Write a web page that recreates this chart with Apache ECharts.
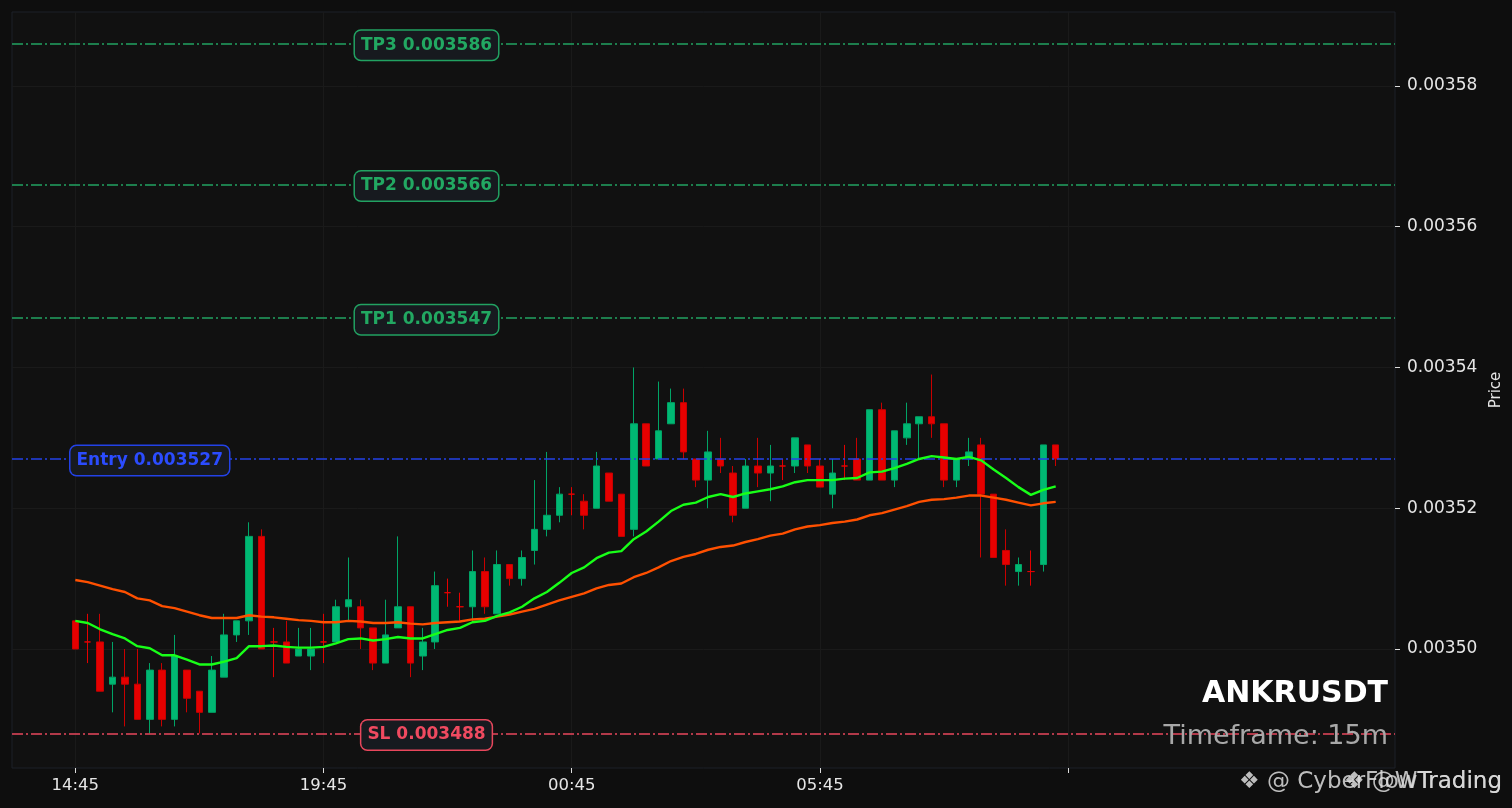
<!DOCTYPE html>
<html>
<head>
<meta charset="utf-8">
<script src="https://cdn.jsdelivr.net/npm/echarts@6/dist/echarts.min.js"></script>
<style>
html,body{margin:0;padding:0;background:#0e0e0e;}
#c{width:1512px;height:808px;}
</style>
</head>
<body>
<div id="c"></div>
<script>
// ---- data (15m candles, index 0 = 14:45) ----
const open = [0.003504,0.003501,0.003501,0.003495,0.003496,0.003495,0.003490,0.003497,0.003490,0.003497,
0.003494,0.003491,0.003496,0.003502,0.003504,0.003516,0.003501,0.003501,0.003499,0.003499,
0.003501,0.003501,0.003506,0.003506,0.003503,0.003498,0.003503,0.003506,0.003499,0.003501,
0.003508,0.003506,0.003506,0.003511,0.003505,0.003512,0.003510,0.003514,0.003517,0.003519,
0.003522,0.003521,0.003520,0.003525,0.003522,0.003517,0.003532,0.003527,0.003532,0.003535,
0.003527,0.003524,0.003527,0.003525,0.003520,0.003526,0.003525,0.003526,0.003526,0.003529,
0.003526,0.003522,0.003526,0.003527,0.003524,0.003534,0.003524,0.003530,0.003532,0.003533,
0.003532,0.003524,0.003527,0.003529,0.003522,0.003514,0.003511,0.003511,0.003512,0.003529];
const close = [0.003500,0.003501,0.003494,0.003496,0.003495,0.003490,0.003497,0.003490,0.003499,0.003493,
0.003491,0.003497,0.003502,0.003504,0.003516,0.003500,0.003501,0.003498,0.003500,0.003500,
0.003501,0.003506,0.003507,0.003503,0.003498,0.003502,0.003506,0.003498,0.003501,0.003509,
0.003508,0.003506,0.003511,0.003506,0.003512,0.003510,0.003513,0.003517,0.003519,0.003522,
0.003522,0.003519,0.003526,0.003521,0.003516,0.003532,0.003526,0.003531,0.003535,0.003528,
0.003524,0.003528,0.003526,0.003519,0.003526,0.003525,0.003526,0.003526,0.003530,0.003526,
0.003523,0.003525,0.003526,0.003524,0.003534,0.003524,0.003531,0.003532,0.003533,0.003532,
0.003524,0.003527,0.003528,0.003522,0.003513,0.003512,0.003512,0.003511,0.003529,0.003527];
const high = [0.003504,0.003505,0.003505,0.003501,0.003500,0.003500,0.003498,0.003498,0.003502,0.003497,
0.003494,0.003499,0.003505,0.003504,0.003518,0.003517,0.003503,0.003504,0.003503,0.003503,
0.003505,0.003507,0.003513,0.003507,0.003503,0.003507,0.003516,0.003506,0.003503,0.003511,
0.003510,0.003508,0.003514,0.003513,0.003514,0.003512,0.003514,0.003524,0.003528,0.003523,
0.003523,0.003522,0.003528,0.003525,0.003522,0.003540,0.003532,0.003538,0.003537,0.003537,
0.003527,0.003531,0.003530,0.003526,0.003527,0.003530,0.003529,0.003527,0.003530,0.003529,
0.003527,0.003527,0.003529,0.003530,0.003534,0.003535,0.003531,0.003535,0.003533,0.003539,
0.003532,0.003527,0.003530,0.003530,0.003522,0.003517,0.003513,0.003514,0.003529,0.003529];
const low = [0.003500,0.003498,0.003494,0.003491,0.003489,0.003490,0.003488,0.003489,0.003489,0.003491,
0.003488,0.003491,0.003496,0.003501,0.003502,0.003500,0.003496,0.003498,0.003499,0.003497,
0.003498,0.003501,0.003504,0.003500,0.003497,0.003498,0.003503,0.003496,0.003497,0.003500,
0.003506,0.003504,0.003504,0.003505,0.003505,0.003509,0.003509,0.003512,0.003516,0.003518,
0.003519,0.003517,0.003520,0.003521,0.003516,0.003516,0.003526,0.003527,0.003532,0.003527,
0.003523,0.003520,0.003525,0.003518,0.003520,0.003523,0.003521,0.003524,0.003525,0.003525,
0.003523,0.003520,0.003524,0.003524,0.003524,0.003524,0.003523,0.003529,0.003527,0.003530,
0.003523,0.003523,0.003526,0.003513,0.003513,0.003509,0.003509,0.003509,0.003511,0.003526];
const fastMA = [0.0035040,0.0035037,0.0035028,0.0035021,0.0035015,0.0035004,0.0035001,0.0034991,0.0034991,0.0034985,
0.0034978,0.0034978,0.0034982,0.0034987,0.0035004,0.0035004,0.0035005,0.0035003,0.0035002,0.0035002,
0.0035003,0.0035008,0.0035014,0.0035015,0.0035012,0.0035014,0.0035017,0.0035015,0.0035015,0.0035021,
0.0035027,0.0035030,0.0035038,0.0035040,0.0035047,0.0035052,0.0035060,0.0035072,0.0035081,0.0035094,
0.0035108,0.0035116,0.0035129,0.0035137,0.0035139,0.0035156,0.0035167,0.0035181,0.0035196,0.0035205,
0.0035208,0.0035216,0.0035220,0.0035216,0.0035221,0.0035224,0.0035227,0.0035231,0.0035237,0.0035240,
0.0035240,0.0035240,0.0035242,0.0035243,0.0035251,0.0035252,0.0035257,0.0035263,0.0035270,0.0035274,
0.0035272,0.0035270,0.0035273,0.0035268,0.0035255,0.0035243,0.0035230,0.0035219,0.0035226,0.0035231];
const slowMA = [0.0035098,0.0035095,0.0035090,0.0035085,0.0035081,0.0035072,0.0035069,0.0035061,0.0035058,0.0035053,
0.0035048,0.0035044,0.0035044,0.0035044,0.0035048,0.0035046,0.0035045,0.0035043,0.0035041,0.0035040,
0.0035038,0.0035038,0.0035040,0.0035039,0.0035037,0.0035037,0.0035038,0.0035036,0.0035035,0.0035037,
0.0035038,0.0035039,0.0035042,0.0035043,0.0035046,0.0035049,0.0035053,0.0035057,0.0035063,0.0035069,
0.0035074,0.0035079,0.0035086,0.0035091,0.0035093,0.0035102,0.0035108,0.0035116,0.0035125,0.0035131,
0.0035135,0.0035141,0.0035145,0.0035147,0.0035152,0.0035156,0.0035161,0.0035164,0.0035170,0.0035174,
0.0035176,0.0035179,0.0035181,0.0035184,0.0035190,0.0035193,0.0035198,0.0035203,0.0035209,0.0035212,
0.0035213,0.0035215,0.0035218,0.0035218,0.0035215,0.0035212,0.0035208,0.0035204,0.0035207,0.0035209];

const levelNames  = ['TP3', 'TP2', 'TP1', 'Entry', 'SL'];
const levelValues = [0.003586, 0.003566, 0.003547, 0.003527, 0.003488];
const xTickIndex  = [0, 20, 40, 60, 80];
const xTickLabels = ['14:45', '19:45', '00:45', '05:45', ''];
const yTickValues = [0.00350, 0.00352, 0.00354, 0.00356, 0.00358];
const symbolName = 'ANKRUSDT';
const timeframeText = 'Timeframe: 15m';
const watermarks = ['\u2756 @ CyberFlowTrading', '\u2756 @WTrading'];

// ---- styling ----
const FONT = 'DejaVu Sans';
const GREEN = '#00b873', GREEN_EDGE = '#00a466';
const RED = '#e60000', RED_EDGE = '#c80000';
const LEVEL_COLORS = {TP3:'#22a262', TP2:'#22a262', TP1:'#22a262', Entry:'#2342e8', SL:'#e8475c'};
const LEVEL_TEXT = {TP3:'#22a862', TP2:'#22a862', TP1:'#22a862', Entry:'#2b4cff', SL:'#f04a60'};
const LEVEL_LABEL_X = {TP3:28.3, TP2:28.3, TP1:28.3, Entry:6.0, SL:28.3};

const candleData = open.map((o, i) => {
  const c = close[i];
  const item = {value: [i, o, c, low[i], high[i]]};
  if (c === o) item.itemStyle = {color: RED, color0: RED, borderColor: RED, borderColor0: RED};
  return item;
});

const chart = echarts.init(document.getElementById('c'), null, {renderer: 'canvas'});
const option = {
  backgroundColor: '#0e0e0e',
  animation: false,
  textStyle: {fontFamily: FONT},
  grid: {left: 12, right: 117, top: 12, bottom: 40, show: true, backgroundColor: '#111111',
         borderColor: '#1d2129', borderWidth: 1, containLabel: false, outerBoundsMode: 'none'},
  xAxis: {
    type: 'value', min: -5.1, max: 106.34,
    axisLine: {show: false, onZero: false},
    axisTick: {show: true, customValues: xTickIndex, length: 5, lineStyle: {color: '#dddddd', width: 1}},
    axisLabel: {show: true, customValues: xTickIndex, color: '#e6e6e6', fontSize: 16.5, margin: 9, fontFamily: FONT,
                formatter: v => xTickLabels[xTickIndex.indexOf(v)] || ''},
    splitLine: {show: true, lineStyle: {color: '#1a1a1a', width: 1}}
  },
  yAxis: {
    type: 'value', position: 'right', min: 0.00348309, max: 0.00359051, scale: true,
    axisLine: {show: false, onZero: false},
    axisTick: {show: true, customValues: yTickValues, length: 5, lineStyle: {color: '#dddddd', width: 1}},
    axisLabel: {show: true, customValues: yTickValues, color: '#e6e6e6', fontSize: 17, margin: 12, fontFamily: FONT,
                formatter: v => v.toFixed(5)},
    splitLine: {show: true, lineStyle: {color: '#1a1a1a', width: 1}},
    name: 'Price', nameLocation: 'middle', nameGap: 90, nameRotate: 90,
    nameTextStyle: {color: '#e6e6e6', fontSize: 15, fontFamily: FONT}
  },
  series: [
    {
      type: 'candlestick', name: 'price', data: candleData, encode: {x: 0, y: [1, 2, 3, 4]},
      barWidth: 7, z: 2,
      itemStyle: {color: GREEN, color0: RED, borderColor: GREEN_EDGE, borderColor0: RED_EDGE, borderWidth: 1}
    },
    {
      type: 'line', name: 'slow', data: slowMA.map((v, i) => [i, v]), symbol: 'none', showSymbol: false,
      lineStyle: {color: '#ff5000', width: 2.4}, z: 4, silent: true,
      markLine: {
        silent: true, symbol: ['none', 'none'], animation: false, precision: 8,
        label: {show: false},
        data: levelNames.map((n, k) => ({yAxis: levelValues[k],
          lineStyle: {color: LEVEL_COLORS[n], type: [11, 3, 2, 3], width: 1.5}}))
      }
    },
    {
      type: 'line', name: 'fast', data: fastMA.map((v, i) => [i, v]), symbol: 'none', showSymbol: false,
      lineStyle: {color: '#18ff18', width: 2.4}, z: 5, silent: true,
      markPoint: {
        silent: true, animation: false, symbol: 'rect', symbolSize: 0,
        data: levelNames.map((n, k) => ({
          coord: [LEVEL_LABEL_X[n], levelValues[k]],
          label: {show: true, position: 'inside', formatter: n + ' ' + levelValues[k].toFixed(6),
            color: LEVEL_TEXT[n], fontSize: 17, fontWeight: 'bold', fontFamily: FONT, offset: [0, 1.5],
            backgroundColor: '#171a1f', borderColor: LEVEL_COLORS[n], borderWidth: 1.5, borderRadius: 6,
            padding: [6, 6, 6, 6]}
        }))
      }
    }
  ],
  graphic: [
    {type: 'text', z: 100, style: {x: 1388, y: 694, text: symbolName, align: 'right', verticalAlign: 'middle',
      fill: '#ffffff', font: 'bold 30px "DejaVu Sans"'}},
    {type: 'text', z: 100, style: {x: 1388, y: 737, text: timeframeText, align: 'right', verticalAlign: 'middle',
      fill: '#a8a8a8', font: '27px "DejaVu Sans"'}},
    {type: 'text', z: 100, style: {x: 1502, y: 782, text: watermarks[0], align: 'right', verticalAlign: 'middle',
      fill: 'rgba(220,220,220,0.85)', font: '23px "DejaVu Sans"'}},
    {type: 'text', z: 100, style: {x: 1502, y: 782, text: watermarks[1], align: 'right', verticalAlign: 'middle',
      fill: 'rgba(220,220,220,0.85)', font: '23px "DejaVu Sans"'}}
  ]
};
chart.setOption(option);
</script>
</body>
</html>
